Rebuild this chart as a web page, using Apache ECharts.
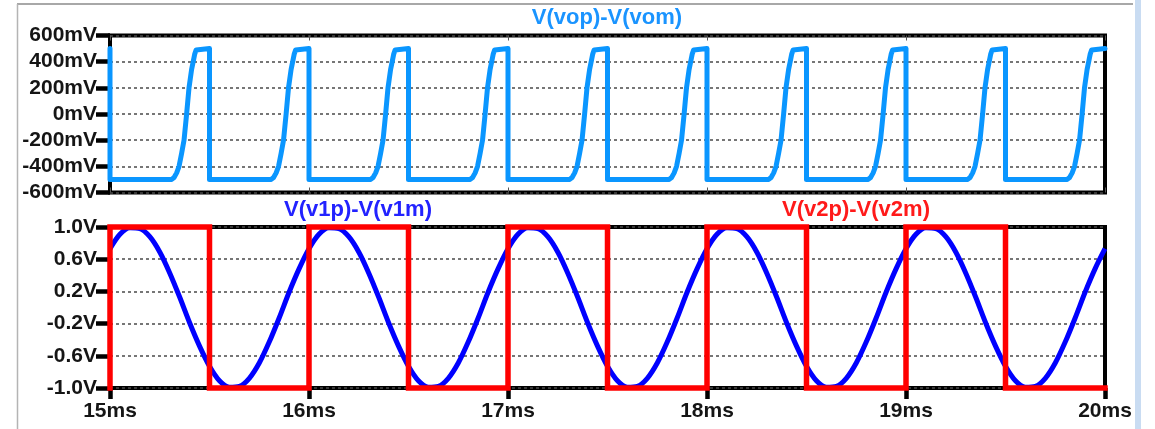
<!DOCTYPE html>
<html>
<head>
<meta charset="utf-8">
<script src="https://cdn.jsdelivr.net/npm/echarts@6/dist/echarts.min.js"></script>
<style>
html,body{margin:0;padding:0;background:#fff;}
#c{width:1155px;height:429px;}
</style>
</head>
<body>
<div id="c"></div>
<script>
// ---- data ----
const xTicks = [15, 16, 17, 18, 19, 20];           // ms
const topYTicks = [-600, -400, -200, 0, 200, 400, 600]; // mV
const botYTicks = [-1.0, -0.6, -0.2, 0.2, 0.6, 1.0];    // V

// V(vop)-V(vom)  [time ms, mV]
const vopPoints = [
 [15.000,500],[15.000,-500],[15.310,-500],[15.322,-485],[15.335,-450],[15.347,-400],[15.360,-300],[15.372,-200],[15.385,0],[15.397,200],[15.410,340],[15.418,400],[15.426,460],[15.433,490],[15.442,500],
 [15.500,500],[15.500,-500],[15.810,-500],[15.822,-485],[15.835,-450],[15.847,-400],[15.860,-300],[15.872,-200],[15.885,0],[15.897,200],[15.910,340],[15.918,400],[15.926,460],[15.933,490],[15.942,500],
 [16.000,500],[16.000,-500],[16.310,-500],[16.322,-485],[16.335,-450],[16.347,-400],[16.360,-300],[16.372,-200],[16.385,0],[16.397,200],[16.410,340],[16.418,400],[16.426,460],[16.433,490],[16.442,500],
 [16.500,500],[16.500,-500],[16.810,-500],[16.822,-485],[16.835,-450],[16.847,-400],[16.860,-300],[16.872,-200],[16.885,0],[16.897,200],[16.910,340],[16.918,400],[16.926,460],[16.933,490],[16.942,500],
 [17.000,500],[17.000,-500],[17.310,-500],[17.322,-485],[17.335,-450],[17.347,-400],[17.360,-300],[17.372,-200],[17.385,0],[17.397,200],[17.410,340],[17.418,400],[17.426,460],[17.433,490],[17.442,500],
 [17.500,500],[17.500,-500],[17.810,-500],[17.822,-485],[17.835,-450],[17.847,-400],[17.860,-300],[17.872,-200],[17.885,0],[17.897,200],[17.910,340],[17.918,400],[17.926,460],[17.933,490],[17.942,500],
 [18.000,500],[18.000,-500],[18.310,-500],[18.322,-485],[18.335,-450],[18.347,-400],[18.360,-300],[18.372,-200],[18.385,0],[18.397,200],[18.410,340],[18.418,400],[18.426,460],[18.433,490],[18.442,500],
 [18.500,500],[18.500,-500],[18.810,-500],[18.822,-485],[18.835,-450],[18.847,-400],[18.860,-300],[18.872,-200],[18.885,0],[18.897,200],[18.910,340],[18.918,400],[18.926,460],[18.933,490],[18.942,500],
 [19.000,500],[19.000,-500],[19.310,-500],[19.322,-485],[19.335,-450],[19.347,-400],[19.360,-300],[19.372,-200],[19.385,0],[19.397,200],[19.410,340],[19.418,400],[19.426,460],[19.433,490],[19.442,500],
 [19.500,500],[19.500,-500],[19.810,-500],[19.822,-485],[19.835,-450],[19.847,-400],[19.860,-300],[19.872,-200],[19.885,0],[19.897,200],[19.910,340],[19.918,400],[19.926,460],[19.933,490],[19.942,500],
 [20.000,500]
];

// V(v1p)-V(v1m)  sampled every 0.05 ms
const v1Times = [
 15.00,15.05,15.10,15.15,15.20,15.25,15.30,15.35,15.40,15.45,15.50,15.55,15.60,15.65,15.70,15.75,15.80,15.85,15.90,15.95,
 16.00,16.05,16.10,16.15,16.20,16.25,16.30,16.35,16.40,16.45,16.50,16.55,16.60,16.65,16.70,16.75,16.80,16.85,16.90,16.95,
 17.00,17.05,17.10,17.15,17.20,17.25,17.30,17.35,17.40,17.45,17.50,17.55,17.60,17.65,17.70,17.75,17.80,17.85,17.90,17.95,
 18.00,18.05,18.10,18.15,18.20,18.25,18.30,18.35,18.40,18.45,18.50,18.55,18.60,18.65,18.70,18.75,18.80,18.85,18.90,18.95,
 19.00,19.05,19.10,19.15,19.20,19.25,19.30,19.35,19.40,19.45,19.50,19.55,19.60,19.65,19.70,19.75,19.80,19.85,19.90,19.95,
 20.00
];
const v1Volts = [
 0.73,0.91,0.99,0.98,0.88,0.69,0.43,0.13,-0.19,-0.48,-0.73,-0.91,-0.99,-0.98,-0.88,-0.69,-0.43,-0.13,0.19,0.48,
 0.73,0.91,0.99,0.98,0.88,0.69,0.43,0.13,-0.19,-0.48,-0.73,-0.91,-0.99,-0.98,-0.88,-0.69,-0.43,-0.13,0.19,0.48,
 0.73,0.91,0.99,0.98,0.88,0.69,0.43,0.13,-0.19,-0.48,-0.73,-0.91,-0.99,-0.98,-0.88,-0.69,-0.43,-0.13,0.19,0.48,
 0.73,0.91,0.99,0.98,0.88,0.69,0.43,0.13,-0.19,-0.48,-0.73,-0.91,-0.99,-0.98,-0.88,-0.69,-0.43,-0.13,0.19,0.48,
 0.73,0.91,0.99,0.98,0.88,0.69,0.43,0.13,-0.19,-0.48,-0.73,-0.91,-0.99,-0.98,-0.88,-0.69,-0.43,-0.13,0.19,0.48,
 0.73
];

// V(v2p)-V(v2m)  square wave [time ms, V]
const v2Points = [
 [15.0,-1],[15.0,1],[15.5,1],[15.5,-1],[16.0,-1],[16.0,1],[16.5,1],[16.5,-1],
 [17.0,-1],[17.0,1],[17.5,1],[17.5,-1],[18.0,-1],[18.0,1],[18.5,1],[18.5,-1],
 [19.0,-1],[19.0,1],[19.5,1],[19.5,-1],[20.0,-1]
];

// ---- chart ----
const LABEL_FONT = { fontFamily: 'Liberation Sans, Arial, sans-serif', fontWeight: 'bold', fontSize: 21, color: '#151515' };
const gridLine = { show: true, lineStyle: { color: '#4a4a4a', width: 1.5, type: [3, 3] } };

const chart = echarts.init(document.getElementById('c'), null, { renderer: 'canvas' });
chart.setOption({
  animation: false,
  backgroundColor: '#fff',
  grid: [
    { left: 110, top: 35.5, width: 995, height: 157, show: true, borderColor: '#000', borderWidth: 4, backgroundColor: '#fff' },
    { left: 110, top: 227, width: 995, height: 161, show: true, borderColor: '#000', borderWidth: 4, backgroundColor: '#fff' }
  ],
  xAxis: [
    { gridIndex: 0, type: 'value', min: 15, max: 20, interval: 1, position: 'bottom',
      axisLine: { show: false, onZero: false }, axisLabel: { show: false }, splitLine: { show: false },
      axisTick: { show: true, inside: true, length: 5, lineStyle: { color: '#555', width: 1 } } },
    { gridIndex: 0, type: 'value', min: 15, max: 20, interval: 1, position: 'top',
      axisLine: { show: false, onZero: false }, axisLabel: { show: false }, splitLine: { show: false },
      axisTick: { show: true, inside: true, length: 5, lineStyle: { color: '#555', width: 1 } } },
    { gridIndex: 1, type: 'value', min: 15, max: 20, interval: 1, position: 'bottom',
      axisLine: { show: false, onZero: false }, splitLine: { show: false },
      axisTick: { show: true, length: 11, lineStyle: { color: '#000', width: 4.5 } },
      axisLabel: Object.assign({ margin: 13, formatter: v => v + 'ms' }, LABEL_FONT) }
  ],
  yAxis: [
    { gridIndex: 0, type: 'value', min: -600, max: 600, interval: 200,
      axisLine: { show: false, onZero: false },
      axisTick: { show: true, length: 14, lineStyle: { color: '#000', width: 4.5 } },
      axisLabel: Object.assign({ margin: 13, formatter: v => v + 'mV' }, LABEL_FONT),
      splitLine: gridLine },
    { gridIndex: 1, type: 'value', min: -1, max: 1,
      axisLine: { show: false, onZero: false },
      axisTick: { show: true, length: 14, customValues: botYTicks, lineStyle: { color: '#000', width: 4.5 } },
      axisLabel: Object.assign({ margin: 13, customValues: botYTicks, formatter: v => v.toFixed(1) + 'V' }, LABEL_FONT),
      splitLine: gridLine }
  ],
  graphic: [
    { type: 'line', shape: { x1: 17, y1: 4, x2: 1133, y2: 4 }, style: { stroke: '#a8a8a8', lineWidth: 2 }, z: 100 },
    { type: 'line', shape: { x1: 17.5, y1: 4, x2: 17.5, y2: 429 }, style: { stroke: '#b4b4b4', lineWidth: 1.5 }, z: 100 },
    { type: 'rect', shape: { x: 1135, y: 0, width: 6, height: 429 }, style: { fill: '#c9dcf2' }, z: 100 },
    { type: 'text', x: 607, y: 18, z: 100, style: { text: 'V(vop)-V(vom)', fill: '#1a94ff', font: 'bold 22px "Liberation Sans", Arial, sans-serif', textAlign: 'center', textVerticalAlign: 'middle' } },
    { type: 'text', x: 358, y: 210, z: 100, style: { text: 'V(v1p)-V(v1m)', fill: '#2222ff', font: 'bold 22px "Liberation Sans", Arial, sans-serif', textAlign: 'center', textVerticalAlign: 'middle' } },
    { type: 'text', x: 856, y: 210, z: 100, style: { text: 'V(v2p)-V(v2m)', fill: '#ff1a1a', font: 'bold 22px "Liberation Sans", Arial, sans-serif', textAlign: 'center', textVerticalAlign: 'middle' } }
  ],
  series: [
    { name: 'V(vop)-V(vom)', type: 'line', xAxisIndex: 0, yAxisIndex: 0, data: vopPoints,
      showSymbol: false, clip: false, lineStyle: { color: '#0a96ff', width: 5, join: 'round', cap: 'round' } },
    { name: 'V(v1p)-V(v1m)', type: 'line', xAxisIndex: 2, yAxisIndex: 1,
      data: v1Times.map((t, i) => [t, v1Volts[i]]),
      showSymbol: false, clip: false, smooth: 0.3, lineStyle: { color: '#0000ff', width: 5, join: 'round' } },
    { name: 'V(v2p)-V(v2m)', type: 'line', xAxisIndex: 2, yAxisIndex: 1, data: v2Points,
      showSymbol: false, clip: false, lineStyle: { color: '#ff0000', width: 5.5, join: 'miter', cap: 'square' } }
  ]
});
</script>
</body>
</html>
